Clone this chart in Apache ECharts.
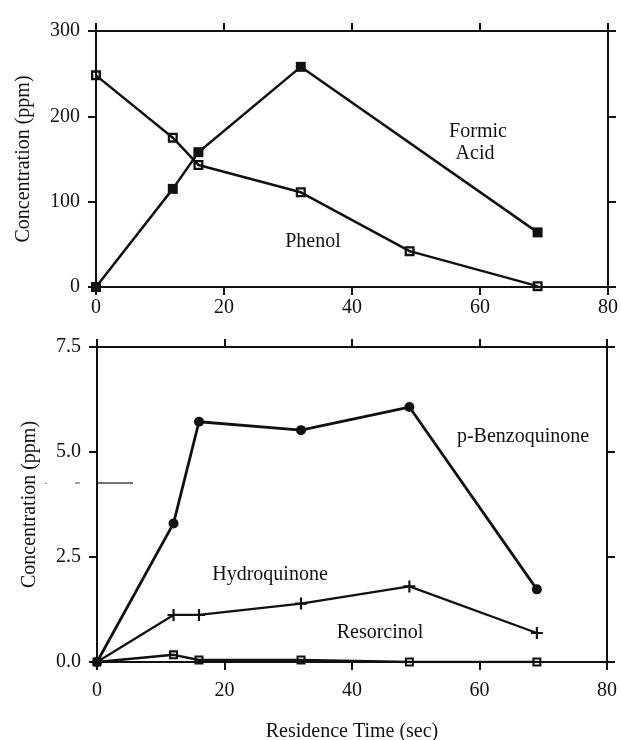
<!DOCTYPE html>
<html>
<head>
<meta charset="utf-8">
<script src="https://cdn.jsdelivr.net/npm/echarts@6/dist/echarts.min.js"></script>
<style>
  html, body { margin: 0; padding: 0; background: #fff; }
  #chart { width: 621px; height: 740px; }
</style>
</head>
<body>
<div id="chart"></div>
<script>
// Residence times (sec)
const timesTop = [0, 12, 16, 32, 49, 69];
const timesFormic = [0, 12, 16, 32, 69];
const timesBottom = [0, 12, 16, 32, 49, 69];

// Upper panel, ppm
const phenol = [248, 175, 143, 111, 42, 1];
const formicAcid = [0, 115, 158, 258, 64];

// Lower panel, ppm
const benzoquinone = [0, 3.3, 5.72, 5.52, 6.07, 1.73];
const hydroquinone = [0, 1.12, 1.12, 1.39, 1.8, 0.69];
const resorcinol = [0, 0.17, 0.05, 0.05, 0, 0];

// Axis ticks
const xTicks = [0, 20, 40, 60, 80];
const yTicksTop = [0, 100, 200, 300];
const yTicksBottom = [0, 2.5, 5.0, 7.5];

const FONT = 'Liberation Serif';
const INK = '#111';

const pairs = (xs, ys) => xs.map((x, i) => [x, ys[i]]);

// Symbols: open square with a centre dot, plus
const openSquare = 'path://M0,0 L10,0 L10,10 L0,10 Z M2.3,2.3 L2.3,7.7 L7.7,7.7 L7.7,2.3 Z M4,4 L6,4 L6,6 L4,6 Z';
const plusSign = 'path://M4.1,0 L5.9,0 L5.9,4.1 L10,4.1 L10,5.9 L5.9,5.9 L5.9,10 L4.1,10 L4.1,5.9 L0,5.9 L0,4.1 L4.1,4.1 Z';

const axisLineStyle = { show: true, onZero: false, lineStyle: { color: INK, width: 2 } };
const axisTickStyle = { show: true, inside: false, length: 8, lineStyle: { color: INK, width: 2 } };

function xAxisPair(gridIndex, labelMargin) {
  const common = {
    type: 'value', gridIndex,
    min: xTicks[0], max: xTicks[xTicks.length - 1], interval: xTicks[1] - xTicks[0],
    axisLine: axisLineStyle,
    axisTick: axisTickStyle,
    splitLine: { show: false }
  };
  return [
    Object.assign({}, common, {
      position: 'bottom',
      axisLabel: { color: INK, fontFamily: FONT, fontSize: 20, margin: labelMargin }
    }),
    Object.assign({}, common, { position: 'top', axisLabel: { show: false } })
  ];
}

function yAxisPair(gridIndex, ticks, decimals, nameGap) {
  const common = {
    type: 'value', gridIndex,
    min: ticks[0], max: ticks[ticks.length - 1], interval: ticks[1] - ticks[0],
    axisLine: axisLineStyle,
    axisTick: axisTickStyle,
    splitLine: { show: false }
  };
  return [
    Object.assign({}, common, {
      position: 'left',
      name: 'Concentration (ppm)',
      nameLocation: 'middle',
      nameGap,
      nameTextStyle: { color: INK, fontFamily: FONT, fontSize: 20 },
      axisLabel: {
        color: INK, fontFamily: FONT, fontSize: 20, margin: 16,
        formatter: v => v.toFixed(decimals)
      }
    }),
    Object.assign({}, common, { position: 'right', axisLabel: { show: false } })
  ];
}

function lineSeries(name, data, xi, yi, symbol, size, width) {
  return {
    name, type: 'line', data,
    xAxisIndex: xi, yAxisIndex: yi,
    symbol, symbolSize: size, showSymbol: true,
    lineStyle: { color: INK, width },
    itemStyle: { color: INK, borderWidth: 0 },
    z: 3, animation: false
  };
}

function note(text, cx, cy) {
  return {
    type: 'text', x: cx, y: cy,
    style: {
      text, fill: INK, fontFamily: FONT, fontSize: 20,
      align: 'center', verticalAlign: 'middle'
    }
  };
}

const chart = echarts.init(document.getElementById('chart'), null, { renderer: 'canvas' });

const xTop = xAxisPair(0, 11);
const xBot = xAxisPair(1, 19);
const yTop = yAxisPair(0, yTicksTop, 0, 62);
const yBot = yAxisPair(1, yTicksBottom, 1, 57);

xBot[0].name = 'Residence Time (sec)';
xBot[0].nameLocation = 'middle';
xBot[0].nameGap = 60;
xBot[0].nameTextStyle = { color: INK, fontFamily: FONT, fontSize: 20 };

chart.setOption({
  backgroundColor: '#fff',
  animation: false,
  grid: [
    { left: 96, right: 13, top: 31, bottom: 453, containLabel: false, outerBoundsMode: 'none' },
    { left: 97, right: 14, top: 347, bottom: 78, containLabel: false, outerBoundsMode: 'none' }
  ],
  xAxis: [xTop[0], xTop[1], xBot[0], xBot[1]],
  yAxis: [yTop[0], yTop[1], yBot[0], yBot[1]],
  series: [
    lineSeries('Phenol', pairs(timesTop, phenol), 0, 0, openSquare, 10, 2.5),
    lineSeries('Formic Acid', pairs(timesFormic, formicAcid), 0, 0, 'rect', 10, 2.5),
    lineSeries('p-Benzoquinone', pairs(timesBottom, benzoquinone), 2, 2, 'circle', 10, 2.8),
    lineSeries('Hydroquinone', pairs(timesBottom, hydroquinone), 2, 2, plusSign, 12, 2.2),
    lineSeries('Resorcinol', pairs(timesBottom, resorcinol), 2, 2, openSquare, 9, 2.5)
  ],
  graphic: [
    note('Formic', 478, 132),
    note('Acid', 475, 154),
    note('Phenol', 313, 242),
    note('p-Benzoquinone', 523, 437),
    note('Hydroquinone', 270, 575),
    note('Resorcinol', 380, 633),
    // faint stray rule beside the lower axis
    { type: 'line', shape: { x1: 98, y1: 483, x2: 133, y2: 483 }, style: { stroke: '#444', lineWidth: 1.5 } },
    { type: 'line', shape: { x1: 75, y1: 483, x2: 80, y2: 483 }, style: { stroke: '#666', lineWidth: 1.2 } },
    { type: 'line', shape: { x1: 45, y1: 484, x2: 47, y2: 483 }, style: { stroke: '#777', lineWidth: 1 } }
  ]
});
</script>
</body>
</html>
